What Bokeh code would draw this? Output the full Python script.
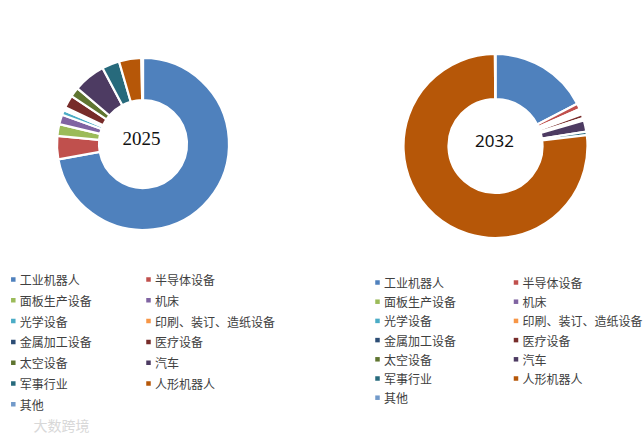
import numpy as np
from bokeh.plotting import figure
from bokeh.models import Range1d, ColumnDataSource
from bokeh.core.properties import value
from bokeh.embed import file_html
from bokeh.resources import INLINE

categories = ["工业机器人", "半导体设备", "面板生产设备", "机床", "光学设备",
              "印刷、装订、造纸设备", "金属加工设备", "医疗设备", "太空设备",
              "汽车", "军事行业", "人形机器人", "其他"]
colors = ["#4F81BD", "#C0504D", "#9BBB59", "#8064A2", "#4BACC6", "#F79646",
          "#2C4D75", "#772C2A", "#5F7530", "#4D3B62", "#276A7C", "#B65708",
          "#729ACA"]
share_2025 = [72.2, 4.4, 2.2, 1.8, 0.9, 0.3, 0.3, 2.4, 1.8, 6.0, 3.3, 4.2, 0.3]
share_2032 = [17.4, 1.0, 0.3, 0.3, 0.2, 0.1, 0.1, 0.7, 0.4, 2.0, 0.6, 76.8, 0.1]
years = ["2025", "2032"]

W, H = 643, 439
p = figure(width=W, height=H, output_backend="svg", toolbar_location=None,
           x_range=Range1d(0, W), y_range=Range1d(0, H), min_border=0)
p.axis.visible = False
p.grid.visible = False
p.outline_line_color = None
p.background_fill_color = "white"


def fy(y):
    # picture pixel y -> data y
    return H - y


def fx(x):
    return x


def donut(vals, cx, cy, r_in, r_out):
    v = np.array(vals, dtype=float)
    frac = v / v.sum()
    c1 = np.cumsum(frac)
    c0 = c1 - frac
    src = ColumnDataSource(dict(
        start=np.pi / 2 - c0 * 2 * np.pi,
        end=np.pi / 2 - c1 * 2 * np.pi,
        color=colors))
    p.annular_wedge(x=fx(cx), y=fy(cy), inner_radius=r_in, outer_radius=r_out,
                    start_angle="start", end_angle="end", direction="clock",
                    fill_color="color", line_color="white", line_width=2.2,
                    source=src)


donut(share_2025, 142.5, 143.5, 44, 86)
donut(share_2032, 495, 145.5, 47, 92)

p.text(x=[fx(141)], y=[fy(138)], text=[years[0]],
       text_font=value("Liberation Serif"),
       text_font_size="19px", text_color="#111111", text_align="center",
       text_baseline="middle")
p.text(x=[fx(494)], y=[fy(140)], text=[years[1]], text_font=value("Noto Sans"),
       text_font_size="17px", text_color="#111111", text_align="center",
       text_baseline="middle")


def legend(col_x, text_dx, row0, dy):
    xs, ys, tx = [], [], []
    for i, cat in enumerate(categories):
        col = i % 2
        row = i // 2
        xs.append(fx(col_x[col]))
        ys.append(fy(row0 + row * dy))
        tx.append(fx(col_x[col] + text_dx))
    p.scatter(x=xs, y=ys, marker="square", size=4.5, fill_color=colors,
              line_color=None)
    p.text(x=tx, y=ys, text=categories, text_font=value("Noto Sans CJK SC"),
           text_font_size="12px", text_color="#404040", text_baseline="middle",
           text_align="left")


legend([12.8, 148], 6.5, 279, 20.8)
legend([377, 515.5], 6.5, 282, 19.2)

p.text(x=[fx(33)], y=[fy(424)], text=["大数跨境"], text_font=value("Noto Sans CJK SC"),
       text_font_size="14px", text_color="#d8d8d8", text_baseline="middle",
       text_align="left")

open("out.html", "w").write(file_html(p, INLINE))
